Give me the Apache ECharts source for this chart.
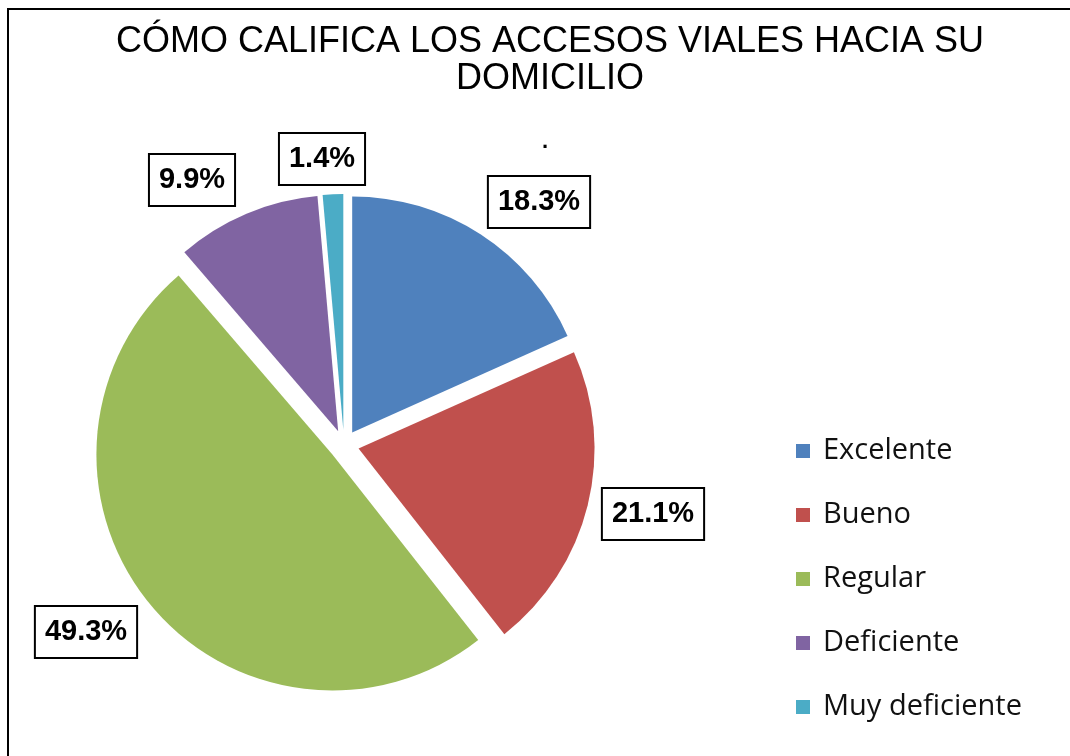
<!DOCTYPE html>
<html>
<head>
<meta charset="utf-8">
<script src="https://cdn.jsdelivr.net/npm/echarts@6/dist/echarts.min.js"></script>
<style>
  html, body { margin: 0; padding: 0; background: #fff; }
  #chart { width: 1070px; height: 756px; }
</style>
</head>
<body>
<div id="chart"></div>
<script>
var categories = ["Excelente", "Bueno", "Regular", "Deficiente", "Muy deficiente"];
var percents = [18.3, 21.1, 49.3, 9.9, 1.4];
var colors = ["#4F81BD", "#C0504D", "#9BBB59", "#8064A2", "#4BACC6"];
// where each data label box sits (center of box)
var labelPos = [[539, 202], [653, 514], [86, 632], [192, 180], [322, 159]];
var explode = 15;

var pieData = categories.map(function (name, i) {
  return {
    name: name,
    value: percents[i],
    selected: true,
    itemStyle: { color: colors[i] },
    select: { itemStyle: { color: colors[i], borderWidth: 0 } }
  };
});

// selection pushes the label out along the slice middle, take it back
function selShift(i) {
  var total = percents.reduce(function (a, b) { return a + b; }, 0);
  var before = 0;
  for (var k = 0; k < i; k++) before += percents[k];
  var mid = (before + percents[i] / 2) / total * Math.PI * 2;
  return [explode * Math.sin(mid), -explode * Math.cos(mid)];
}

var chart = echarts.init(document.getElementById("chart"));
var option = {
  animation: false,
  color: colors,
  title: {
    text: "CÓMO CALIFICA LOS ACCESOS VIALES HACIA SU\nDOMICILIO",
    left: 545,
    textAlign: "center",
    top: 19,
    textStyle: {
      fontFamily: "Liberation Sans",
      fontWeight: "normal",
      fontSize: 36,
      lineHeight: 37,
      color: "#000"
    }
  },
  legend: {
    orient: "vertical",
    left: 791,
    top: 431,
    icon: "rect",
    itemWidth: 14,
    itemHeight: 14,
    itemGap: 34,
    selectedMode: false,
    data: categories,
    textStyle: {
      fontFamily: "Open Sans",
      fontSize: 29,
      lineHeight: 30,
      color: "#111",
      padding: [0, 0, 0, 8]
    }
  },
  graphic: [
    {
      type: "rect",
      shape: { x: 8, y: 9, width: 1200, height: 900 },
      style: { fill: "none", stroke: "#000", lineWidth: 2 },
      silent: true
    },
    {
      type: "text",
      left: 542,
      top: 131,
      style: { text: ".", font: "bold 22px Liberation Sans", fill: "#000" },
      silent: true
    }
  ],
  series: [
    {
      type: "pie",
      center: [344, 445],
      radius: 236,
      startAngle: 90,
      clockwise: true,
      selectedMode: "multiple",
      selectedOffset: explode,
      avoidLabelOverlap: false,
      emphasis: { disabled: true },
      label: {
        show: true,
        position: "outside",
        formatter: function (p) { return p.value.toFixed(1) + "%"; },
        fontFamily: "Liberation Sans",
        fontWeight: "bold",
        fontSize: 29,
        lineHeight: 30,
        color: "#000",
        backgroundColor: "#fff",
        borderColor: "#000",
        borderWidth: 2,
        padding: [11, 9, 9, 9]
      },
      labelLine: { show: false },
      labelLayout: function (params) {
        var p = labelPos[params.dataIndex];
        var r = params.labelRect;
        var s = selShift(params.dataIndex);
        return {
          dx: p[0] - (r.x + r.width / 2) - s[0],
          dy: p[1] - (r.y + r.height / 2) - s[1]
        };
      },
      data: pieData
    }
  ]
};
chart.setOption(option, true);
</script>
</body>
</html>
